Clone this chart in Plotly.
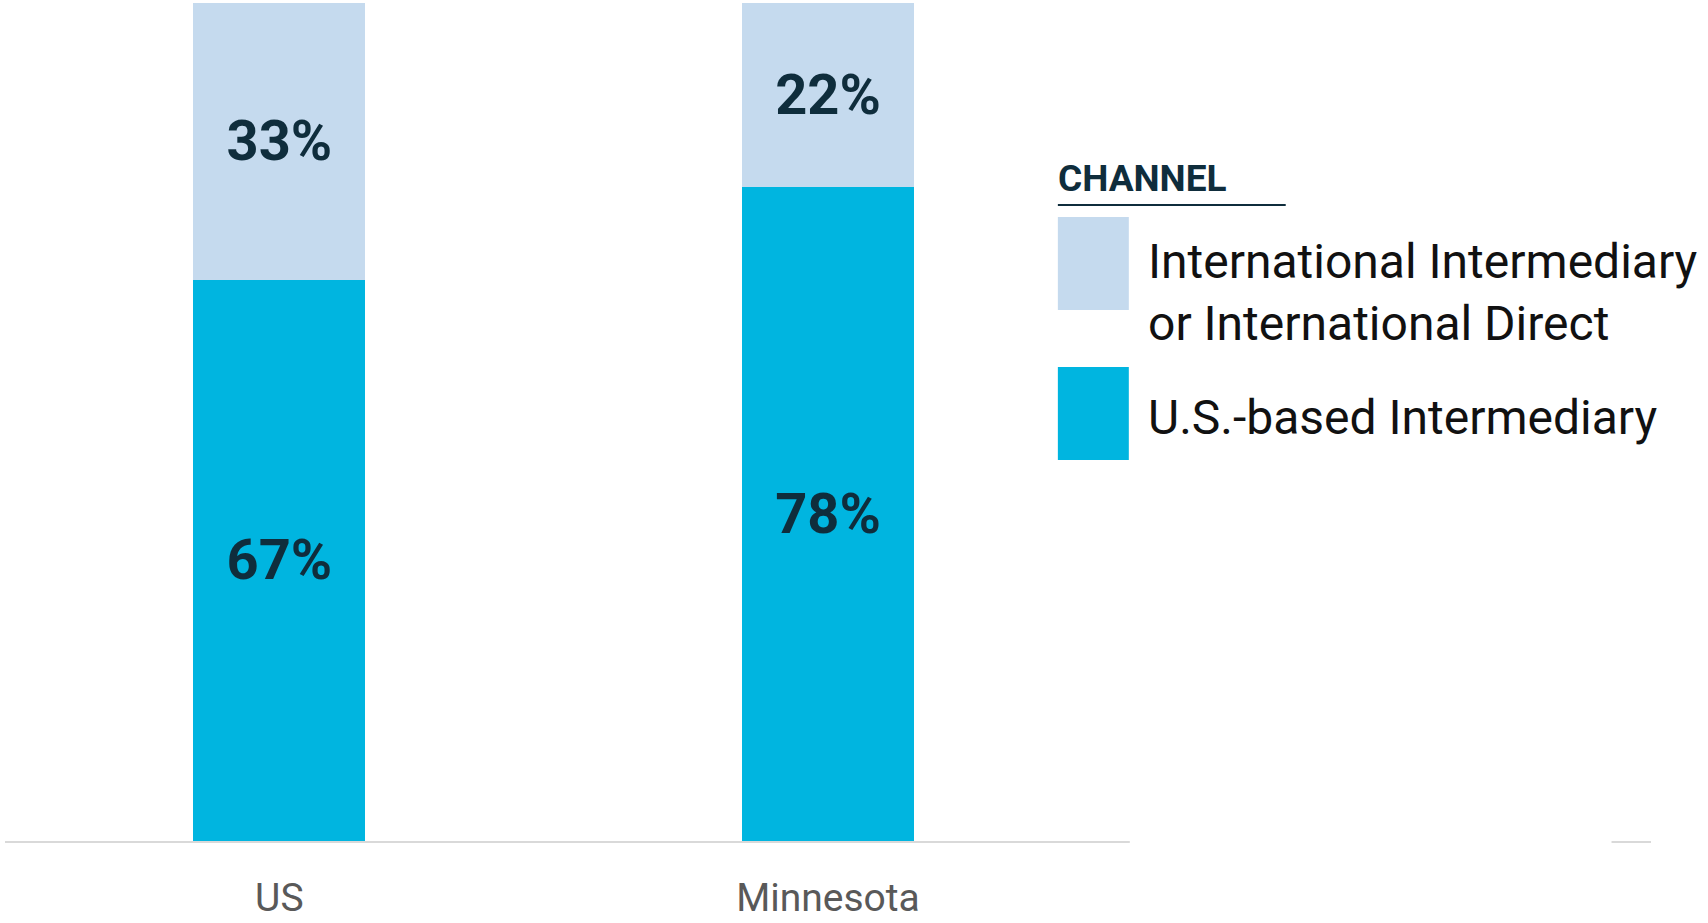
import plotly.graph_objects as go

# ---- data ----
categories = ["US", "Minnesota"]
series_names = ["U.S.-based Intermediary",
                "International Intermediary<br>or International Direct"]
us_based = [67, 78]
international = [33, 22]
series_colors = ["#00b5e0", "#c5daee"]
legend_title = "CHANNEL"

# ---- geometry helpers (pixel -> paper) ----
W, H = 1708, 923
ML, MR, MT, MB = 4.5, 56.5, 3, 82
PW, PH = W - ML - MR, H - MT - MB


def px(x):
    return (x - ML) / PW


def py(y):
    return (H - MB - y) / PH


DARK = "#0f2d3c"
BOLD_FONT = "Roboto, sans-serif"
TEXT_FONT = "Roboto, DejaVu Sans, sans-serif"

fig = go.Figure()
for name, vals, col in zip(series_names, [us_based, international], series_colors):
    fig.add_trace(go.Bar(
        x=categories, y=vals, name=name.replace("<br>", " "),
        marker=dict(color=col, line=dict(width=0)),
        width=0.313,
        text=[f"{v}%" for v in vals],
        textposition="inside", insidetextanchor="middle", textangle=0,
        textfont=dict(family=BOLD_FONT, size=56, color=DARK, weight="bold"),
        showlegend=False, hoverinfo="x+y+name",
    ))

shapes = []
annotations = []

# legend title with underline
annotations.append(dict(
    xref="paper", yref="paper", x=px(1056), y=py(178.5),
    xanchor="left", yanchor="middle", showarrow=False,
    text=f"<b>{legend_title}</b>",
    font=dict(family=BOLD_FONT, size=37, color=DARK)))
shapes.append(dict(type="line", xref="paper", yref="paper",
                   x0=px(1058), x1=px(1286), y0=py(205), y1=py(205),
                   line=dict(color=DARK, width=2)))

# legend entries (top: international, bottom: U.S.-based)
entries = [
    (series_names[1], series_colors[1], 217, 310, 292),
    (series_names[0], series_colors[0], 367, 460, 417),
]
for label, col, top, bot, tc in entries:
    shapes.append(dict(type="rect", xref="paper", yref="paper",
                       x0=px(1058), x1=px(1129), y0=py(bot), y1=py(top),
                       fillcolor=col, line=dict(width=0)))
    annotations.append(dict(
        xref="paper", yref="paper", x=px(1146), y=py(tc),
        xanchor="left", yanchor="middle", align="left", showarrow=False,
        text=label, font=dict(family=TEXT_FONT, size=48, color="#111111")))

# white cover for the part of the baseline hidden behind the legend
shapes.append(dict(type="rect", xref="paper", yref="paper", layer="above",
                   x0=px(1130), x1=px(1612), y0=-0.01, y1=0.01,
                   fillcolor="white", line=dict(width=0)))

fig.update_layout(
    width=W, height=H,
    margin=dict(l=ML, r=MR, t=MT, b=MB, pad=0, autoexpand=False),
    barmode="stack",
    paper_bgcolor="white", plot_bgcolor="white",
    shapes=shapes, annotations=annotations,
    xaxis=dict(range=[-0.5, 2.5], showgrid=False, zeroline=False,
               showline=True, linecolor="#d9d9d9", linewidth=2,
               automargin=False,
               ticks="", tickfont=dict(family=TEXT_FONT, size=39, color="#595959"),
               ticklabelstandoff=21),
    yaxis=dict(range=[0, 100], visible=False, showgrid=False, zeroline=False,
               automargin=False),
    font=dict(family=TEXT_FONT),
)

fig.write_html("out.html", config={"displayModeBar": False},
               post_script="document.body.style.margin='0';")
